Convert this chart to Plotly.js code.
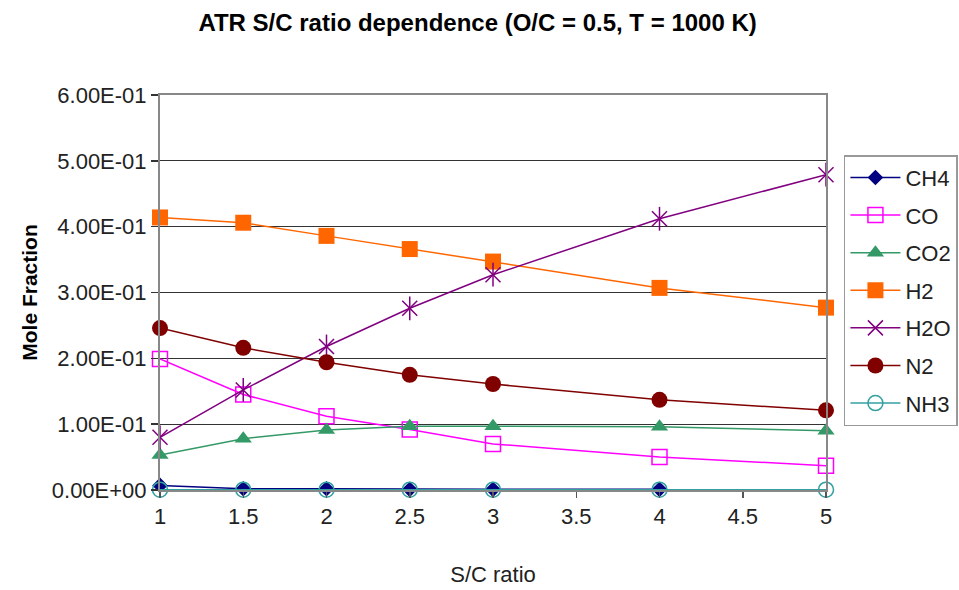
<!DOCTYPE html>
<html>
<head>
<meta charset="utf-8">
<script src="https://cdn.plot.ly/plotly-3.0.1.min.js"></script>
<style>html,body{margin:0;padding:0;background:#fff;}#chart{width:959px;height:590px;}</style>
</head>
<body>
<div id="chart"></div>
<script>
const scRatio = [1, 1.5, 2, 2.5, 3, 4, 5];
const ch4 = [0.007, 0.002, 0.002, 0.001, 0.001, 0.001, null];
const co  = [0.199, 0.145, 0.112, 0.092, 0.070, 0.050, 0.037];
const co2 = [0.053, 0.078, 0.091, 0.097, 0.097, 0.096, 0.090];
const h2  = [0.414, 0.406, 0.386, 0.366, 0.347, 0.307, 0.277];
const h2o = [0.080, 0.152, 0.218, 0.276, 0.327, 0.412, 0.479];
const n2  = [0.246, 0.216, 0.194, 0.175, 0.161, 0.137, 0.121];
const nh3 = [0.0005, 0.0005, 0.0005, 0.0005, 0.0005, 0.0005, 0.0005];
const xTickVals = [1, 1.5, 2, 2.5, 3, 3.5, 4, 4.5, 5];
const xTickText = ['1','1.5','2','2.5','3','3.5','4','4.5','5'];
const yTickVals = [0, 0.1, 0.2, 0.3, 0.4, 0.5, 0.6];
const yTickText = ['0.00E+00','1.00E-01','2.00E-01','3.00E-01','4.00E-01','5.00E-01','6.00E-01'];

function tr(name, y, color, symbol, size, open, group) {
  return {
    x: scRatio, y: y, name: name, type: 'scatter', mode: 'lines+markers',
    legendgroup: group, cliponaxis: false,
    line: {color: color, width: 1.5},
    marker: {
      symbol: symbol, size: size, color: color,
      line: {color: color, width: open ? 1.5 : 0}
    }
  };
}

const data = [
  tr('CH4', ch4, '#000080', 'diamond', 12, false, 'g1'),
  tr('CO', co, '#FF00FF', 'square-open', 15, true, 'g2'),
  tr('CO2', co2, '#339966', 'triangle-up', 15, false, 'g3'),
  tr('H2', h2, '#FF6600', 'square', 16, false, 'g4'),
  tr('H2O', h2o, '#800080', 'x-thin-open', 15, true, 'g5'),
  {x: scRatio, y: h2o, type: 'scatter', mode: 'markers', showlegend: false, hoverinfo: 'skip',
   legendgroup: 'g5', cliponaxis: false,
   marker: {symbol: 'line-ns-open', size: 17, color: '#800080', line: {color: '#800080', width: 1.5}}},
  tr('N2', n2, '#800000', 'circle', 16, false, 'g6'),
  tr('NH3', nh3, '#33A0A0', 'circle-open', 15, true, 'g7')
];

const layout = {
  width: 959, height: 590,
  margin: {l: 160, r: 133, t: 95, b: 100},
  paper_bgcolor: '#fff', plot_bgcolor: '#fff',
  font: {family: 'Liberation Sans, Arial, sans-serif', color: '#000', size: 22},
  title: {text: '<b>ATR S/C ratio dependence (O/C = 0.5, T = 1000 K)</b>',
          font: {size: 24, family: 'Liberation Sans, Arial, sans-serif'},
          x: 0.498, xanchor: 'center', y: 0.962, yanchor: 'middle'},
  xaxis: {
    range: [1, 5], tickvals: xTickVals, ticktext: xTickText,
    ticks: 'outside', ticklen: 6, tickcolor: '#555', tickwidth: 1.5,
    showgrid: false, zeroline: false,
    showline: true, linecolor: '#888', linewidth: 2, mirror: true,
    tickfont: {size: 22, color: '#222'},
    title: {text: 'S/C ratio', font: {size: 22, color: '#222'}, standoff: 38},
    automargin: false
  },
  yaxis: {
    range: [0, 0.6], tickvals: yTickVals, ticktext: yTickText,
    ticks: 'outside', ticklen: 7, tickcolor: '#333', tickwidth: 1.5,
    showgrid: true, gridcolor: '#333', gridwidth: 1.3, zeroline: false,
    showline: true, linecolor: '#888', linewidth: 2, mirror: true,
    tickfont: {size: 22, color: '#222'},
    title: {text: '<b>Mole Fraction</b>', font: {size: 21, color: '#000'}, standoff: 8},
    automargin: false
  },
  legend: {
    xref: 'container', yref: 'container',
    x: 0.880, xanchor: 'left', y: 0.737, yanchor: 'top',
    bordercolor: '#999', borderwidth: 1.5, bgcolor: '#fff',
    font: {size: 22, color: '#222'},
    tracegroupgap: 6, itemwidth: 50
  },
  showlegend: true
};

Plotly.newPlot('chart', data, layout, {displayModeBar: false, staticPlot: true});
</script>
</body>
</html>
